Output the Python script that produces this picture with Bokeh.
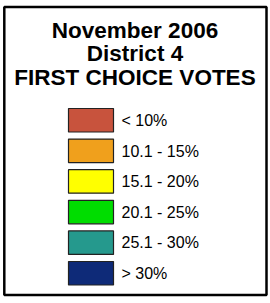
from bokeh.plotting import figure
from bokeh.models import Range1d, ColumnDataSource
from bokeh.core.properties import value
from bokeh.embed import file_html
from bokeh.resources import INLINE

# ---- data ----
title_lines = ["November 2006", "District 4", "FIRST CHOICE VOTES"]
categories = ["< 10%", "10.1 - 15%", "15.1 - 20%", "20.1 - 25%", "25.1 - 30%", "> 30%"]
colors = ["#C8533D", "#F0A01C", "#FFFF00", "#00DD00", "#25998D", "#0E2A78"]

W, H = 270, 303
p = figure(width=W, height=H, output_backend="svg", toolbar_location=None,
           x_range=Range1d(0, W), y_range=Range1d(H, 0),
           x_axis_location=None, y_axis_location=None, min_border=0,
           outline_line_color=None, background_fill_color="white",
           border_fill_color="white")
p.grid.visible = False

# frame
p.quad(left=[3.8], right=[266], top=[6.5], bottom=[294.5],
       fill_color=None, line_color="black", line_width=2.5)

# title
p.text(x=[134.5] * len(title_lines), y=[29.5 + 23.5 * i for i in range(len(title_lines))],
       text=title_lines, text_font=value("Liberation Sans"), text_font_style="bold",
       text_font_size="22.5px", text_align="center", text_baseline="middle",
       text_color="black")

# swatches
n = len(categories)
tops = [108 + 30.6 * i for i in range(n)]
src = ColumnDataSource(dict(
    left=[68] * n, right=[113] * n, top=tops, bottom=[t + 23.5 for t in tops],
    color=colors, label=categories, lx=[121] * n, ly=[t + 12 for t in tops]))
p.quad(left="left", right="right", top="top", bottom="bottom", source=src,
       fill_color="color", line_color="#222222", line_width=1.2)
p.text(x="lx", y="ly", text="label", source=src, text_font=value("Liberation Sans"),
       text_font_size="16px", text_baseline="middle", text_align="left", text_color="black")

open("out.html", "w").write(file_html(p, INLINE))
